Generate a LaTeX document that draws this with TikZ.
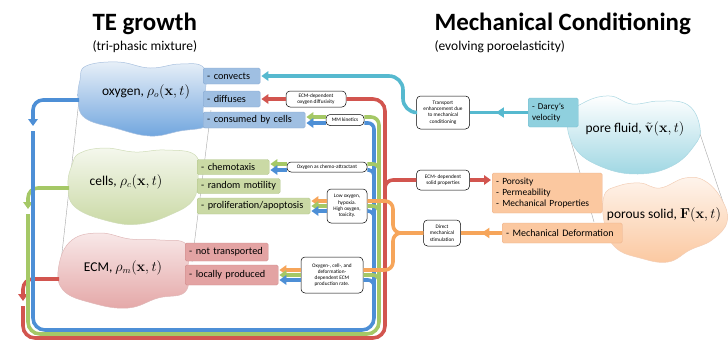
\documentclass[tikz,border=0pt]{standalone}
\usepackage{amsmath,amssymb}
\usepackage[no-math]{fontspec}
\setmainfont{Carlito}
\usepackage{tikz}
\usetikzlibrary{arrows.meta,decorations.markings}

\definecolor{oxfill}{HTML}{9FBFE2}
\definecolor{oxdraw}{HTML}{84A7D1}
\definecolor{cellfill}{HTML}{CAD9A5}
\definecolor{celldraw}{HTML}{AFC487}
\definecolor{ecmfill}{HTML}{E3A3A3}
\definecolor{ecmdraw}{HTML}{CC8888}
\definecolor{mechfill}{HTML}{FBC8A0}
\definecolor{mechdraw}{HTML}{EBAE86}
\definecolor{darcyfill}{HTML}{8FD0DE}
\definecolor{darcydraw}{HTML}{70BCCF}
\definecolor{oxline}{HTML}{4D8FD6}
\definecolor{cellline}{HTML}{A5C866}
\definecolor{redline}{HTML}{D2554F}
\definecolor{orline}{HTML}{F6A55A}
\definecolor{tealline}{HTML}{56B9CF}

\begin{document}
\begin{tikzpicture}[x=1bp,y=-1bp,
  tag/.style={rounded corners=1.5bp,inner xsep=4bp,inner ysep=1bp,anchor=west,align=left,
              font=\fontsize{10.3}{11.5}\selectfont},
  oxbox/.style={tag,fill=oxfill,draw=oxdraw},
  cellbox/.style={tag,fill=cellfill,draw=celldraw},
  ecmbox/.style={tag,fill=ecmfill,draw=ecmdraw},
  mechbox/.style={tag,fill=mechfill,draw=mechdraw},
  darcybox/.style={tag,fill=darcyfill,draw=darcydraw},
  note/.style={draw,rounded corners=4bp,fill=white,align=center,inner sep=1bp,line width=0.5bp,
               font=\fontsize{5.3}{6.3}\selectfont},
  flow/.style={line width=3.6bp},
  arr/.style={-{Triangle[length=7bp,width=9.5bp]},shorten >=1bp},
  midtip/.style={postaction={decorate},decoration={markings,
      mark=at position #1 with {\arrow{Triangle[length=8bp,width=10bp]}}}},
  ttl/.style={anchor=base west,font=\fontsize{25}{27}\selectfont\bfseries},
  subttl/.style={anchor=base west,font=\fontsize{13.5}{15}\selectfont},
  blobtext/.style={font=\fontsize{13.5}{15}\selectfont}]
  \useasboundingbox (0,0) rectangle (728,340);

  \node[ttl] (tegrowth) at (89,30) {TE growth};
  \node[subttl] (tephase) at (89,50) {(tri-phasic mixture)};
  \node[ttl] (mechcond) at (431,30) {Mechanical Conditioning};
  \node[subttl] (mechporo) at (431,50) {(evolving poroelasticity)};

  \draw[gray!70,line width=0.4bp] (79,100) -- (61,262);
  \draw[gray!70,line width=0.4bp] (211,110) -- (192,262);
  \draw[gray!70,line width=0.4bp] (570,138) -- (594,222);
  \draw[gray!70,line width=0.4bp] (698,128) -- (724,205);

  \draw[draw=oxdraw!70,line width=0.5bp,top color=oxfill!25,bottom color=oxline!80]
    plot[smooth cycle,tension=0.7] coordinates {(86,66) (118,62) (150,68) (180,64) (204,68)
      (205,95) (203,112) (206,126) (180,131) (150,136) (115,128) (85,118) (78,100) (80,80)};
  \draw[draw=celldraw!60,line width=0.5bp,top color=cellfill!20,bottom color=cellfill]
    plot[smooth cycle,tension=0.7] coordinates {(80,153) (105,148) (135,152) (165,150) (195,155)
      (198,178) (193,200) (172,214) (140,224) (108,221) (75,207) (68,185) (72,165)};
  \draw[draw=ecmdraw!60,line width=0.5bp,top color=ecmfill!25,bottom color=ecmfill!95]
    plot[smooth cycle,tension=0.7] coordinates {(72,240) (100,233) (130,239) (160,240) (186,244)
      (188,268) (185,292) (158,298) (128,308) (92,303) (63,290) (59,265)};
  \draw[draw=darcydraw!60,line width=0.5bp,top color=white,bottom color=darcyfill!85]
    plot[smooth cycle,tension=0.7] coordinates {(568,118) (585,102) (610,96) (632,104) (660,101)
      (688,105) (700,128) (694,146) (672,166) (638,174) (602,167) (575,148)};
  \draw[draw=mechdraw!60,line width=0.5bp,top color=mechfill!20,bottom color=mechfill]
    plot[smooth cycle,tension=0.7] coordinates {(604,196) (618,186) (640,183) (660,188) (685,178)
      (705,181) (722,200) (727,222) (712,240) (690,250) (668,262) (640,258) (616,248) (605,226)};

  \node[blobtext] (oxy) at (146,92) {oxygen, $\rho_{o}(\mathbf{x},t)$};
  \node[blobtext] (cells) at (126,182) {cells, $\rho_{c}(\mathbf{x},t)$};
  \node[blobtext] (ecm) at (123,268) {ECM, $\rho_{m}(\mathbf{x},t)$};
  \node[blobtext] (fluid) at (635,129) {pore fluid, $\tilde{\mathbf{v}}(\mathbf{x},t)$};
  \node[blobtext] (solid) at (664,215) {porous solid, $\mathbf{F}(\mathbf{x},t)$};

  \node[oxbox,text width=49bp,minimum height=16bp] (conv) at (203,76) {- convects};
  \node[oxbox,text width=49bp,minimum height=16bp] (diff) at (203,99) {- diffuses};
  \node[oxbox,text width=94bp,minimum height=16bp] (cons) at (203,120) {- consumed by cells};
  \node[cellbox,text width=64bp,minimum height=15bp] (chem) at (197,167) {- chemotaxis};
  \node[cellbox,text width=75bp,minimum height=15bp] (rand) at (197,186) {- random motility};
  \node[cellbox,text width=105bp,minimum height=16bp] (prol) at (197,206) {- proliferation/apoptosis};
  \node[ecmbox,text width=75bp,minimum height=18bp] (notr) at (185,252) {- not transported};
  \node[ecmbox,text width=85bp,minimum height=20bp] (locp) at (185,275) {- locally produced};
  \node[darcybox,text width=42bp,minimum height=29bp,font=\fontsize{9}{10.5}\selectfont] (darcy) at (528,112.5) {- Darcy's\\velocity};
  \node[mechbox,text width=102bp,minimum height=40bp,font=\fontsize{9.5}{11}\selectfont] (poro) at (492,193) {- Porosity\\- Permeability\\- Mechanical Properties};
  \node[mechbox,text width=112bp,minimum height=20bp,font=\fontsize{10}{11.5}\selectfont] (mdef) at (502,233) {- Mechanical Deformation};

  \node[note,minimum width=60bp,minimum height=16bp] (ediff) at (316,99) {ECM-dependent\\oxygen diffusivity};
  \node[note,minimum width=38bp,minimum height=11bp] (mm) at (345,120) {MM kinetics};
  \node[note,minimum width=80bp,minimum height=10bp] (chemo) at (327,167) {Oxygen as chemo-attractant};
  \node[note,minimum width=40bp,minimum height=34bp] (lowox) at (347,206) {Low oxygen,\\hypoxia.\\High oxygen,\\toxicity.};
  \node[note,minimum width=62bp,minimum height=36bp] (ecmrate) at (332,275) {Oxygen-, cell-, and\\deformation-\\dependent ECM\\production rate.};
  \node[note,minimum width=53bp,minimum height=33bp] (transp) at (443,112.5) {Transport\\enhancement due\\to mechanical\\conditioning};
  \node[note,minimum width=53bp,minimum height=20bp] (solidp) at (443,180) {ECM- dependent\\solid properties};
  \node[note,minimum width=37bp,minimum height=26bp] (direct) at (442,233) {Direct\\mechanical\\stimulation};

  \coordinate (oxyL) at (79,100);
  \coordinate (cellsL) at (69,188);
  \coordinate (ecmL) at (59,279);
  \coordinate (blueArr) at (33,127);
  \coordinate (greenArr) at (28,210);
  \coordinate (redArr) at (23,302);

  \draw[flow,oxline,arr,rounded corners=10bp] (oxyL) -| (blueArr);
  \draw[flow,cellline,arr,rounded corners=10bp] (cellsL) -| (greenArr);
  \draw[flow,redline,arr,rounded corners=10bp] (ecmL) -| (redArr);

  \draw[flow,oxline,rounded corners=12bp] (33,131) -- (33,330) -- (374,330) -- (374,135);
  \draw[flow,oxline,rounded corners=6bp] (374,136) -- (374,123) -- ([yshift=-3bp]mm.east);
  \draw[flow,oxline,rounded corners=5bp] (374,182) -- (374,170) -- ([yshift=-3bp]chemo.east);
  \draw[flow,oxline,rounded corners=6bp] (374,222) -- (374,211) -- ([yshift=-5bp]lowox.east);
  \draw[flow,oxline,rounded corners=6bp] (374,292) -- (374,280) -- ([yshift=-5bp]ecmrate.east);

  \draw[flow,cellline,rounded corners=12bp] (28,214) -- (28,334) -- (379,334) -- (379,135);
  \draw[flow,cellline,rounded corners=8bp] (379,136) -- (379,117) -- ([yshift=3bp]mm.east);
  \draw[flow,cellline,rounded corners=6bp] (379,182) -- (379,164) -- ([yshift=3bp]chemo.east);
  \draw[flow,cellline,rounded corners=6bp] (379,222) -- (379,206) -- (lowox.east);
  \draw[flow,cellline,rounded corners=6bp] (379,292) -- (379,275) -- (ecmrate.east);

  \draw[flow,redline,rounded corners=12bp] (23,306) -- (23,338) -- (385,338) -- (385,99) -- (ediff.east);
  \draw[flow,redline,rounded corners=8bp] (385,200) -- (385,180) -- (solidp.west);

  \draw[flow,orline,rounded corners=8bp] (direct.west) -- (393,233) -- (393,201) -- ([yshift=5bp]lowox.east);
  \draw[flow,orline,rounded corners=8bp] (direct.west) -- (393,233) -- (393,270) -- ([yshift=5bp]ecmrate.east);

  \draw[flow,tealline,midtip=0.55] (darcy.west) -- (transp.east);
  \draw[flow,tealline,arr,rounded corners=14bp] (transp.west) -- (403,112.5) -- (403,76) -- (conv.east);
  \draw[flow,orline,midtip=0.5] (mdef.west) -- (direct.east);
  \draw[flow,redline,arr] (solidp.east) -- (solidp.east -| poro.west);

  \draw[flow,redline,arr] (ediff.west) -- (diff.east);
  \draw[flow,cellline,arr] ([yshift=3bp]mm.west) -- ([yshift=3bp]cons.east);
  \draw[flow,oxline,arr] ([yshift=-3bp]mm.west) -- ([yshift=-3bp]cons.east);
  \draw[flow,cellline,arr] ([yshift=3bp]chemo.west) -- ([yshift=3bp]chem.east);
  \draw[flow,oxline,arr] ([yshift=-3bp]chemo.west) -- ([yshift=-3bp]chem.east);
  \draw[flow,orline,arr] ([yshift=5bp]lowox.west) -- ([yshift=5bp]prol.east);
  \draw[flow,cellline,arr] (lowox.west) -- (prol.east);
  \draw[flow,oxline,arr] ([yshift=-5bp]lowox.west) -- ([yshift=-5bp]prol.east);
  \draw[flow,orline,arr] ([yshift=5bp]ecmrate.west) -- ([yshift=5bp]locp.east);
  \draw[flow,cellline,arr] (ecmrate.west) -- (locp.east);
  \draw[flow,oxline,arr] ([yshift=-5bp]ecmrate.west) -- ([yshift=-5bp]locp.east);
\end{tikzpicture}
\end{document}
